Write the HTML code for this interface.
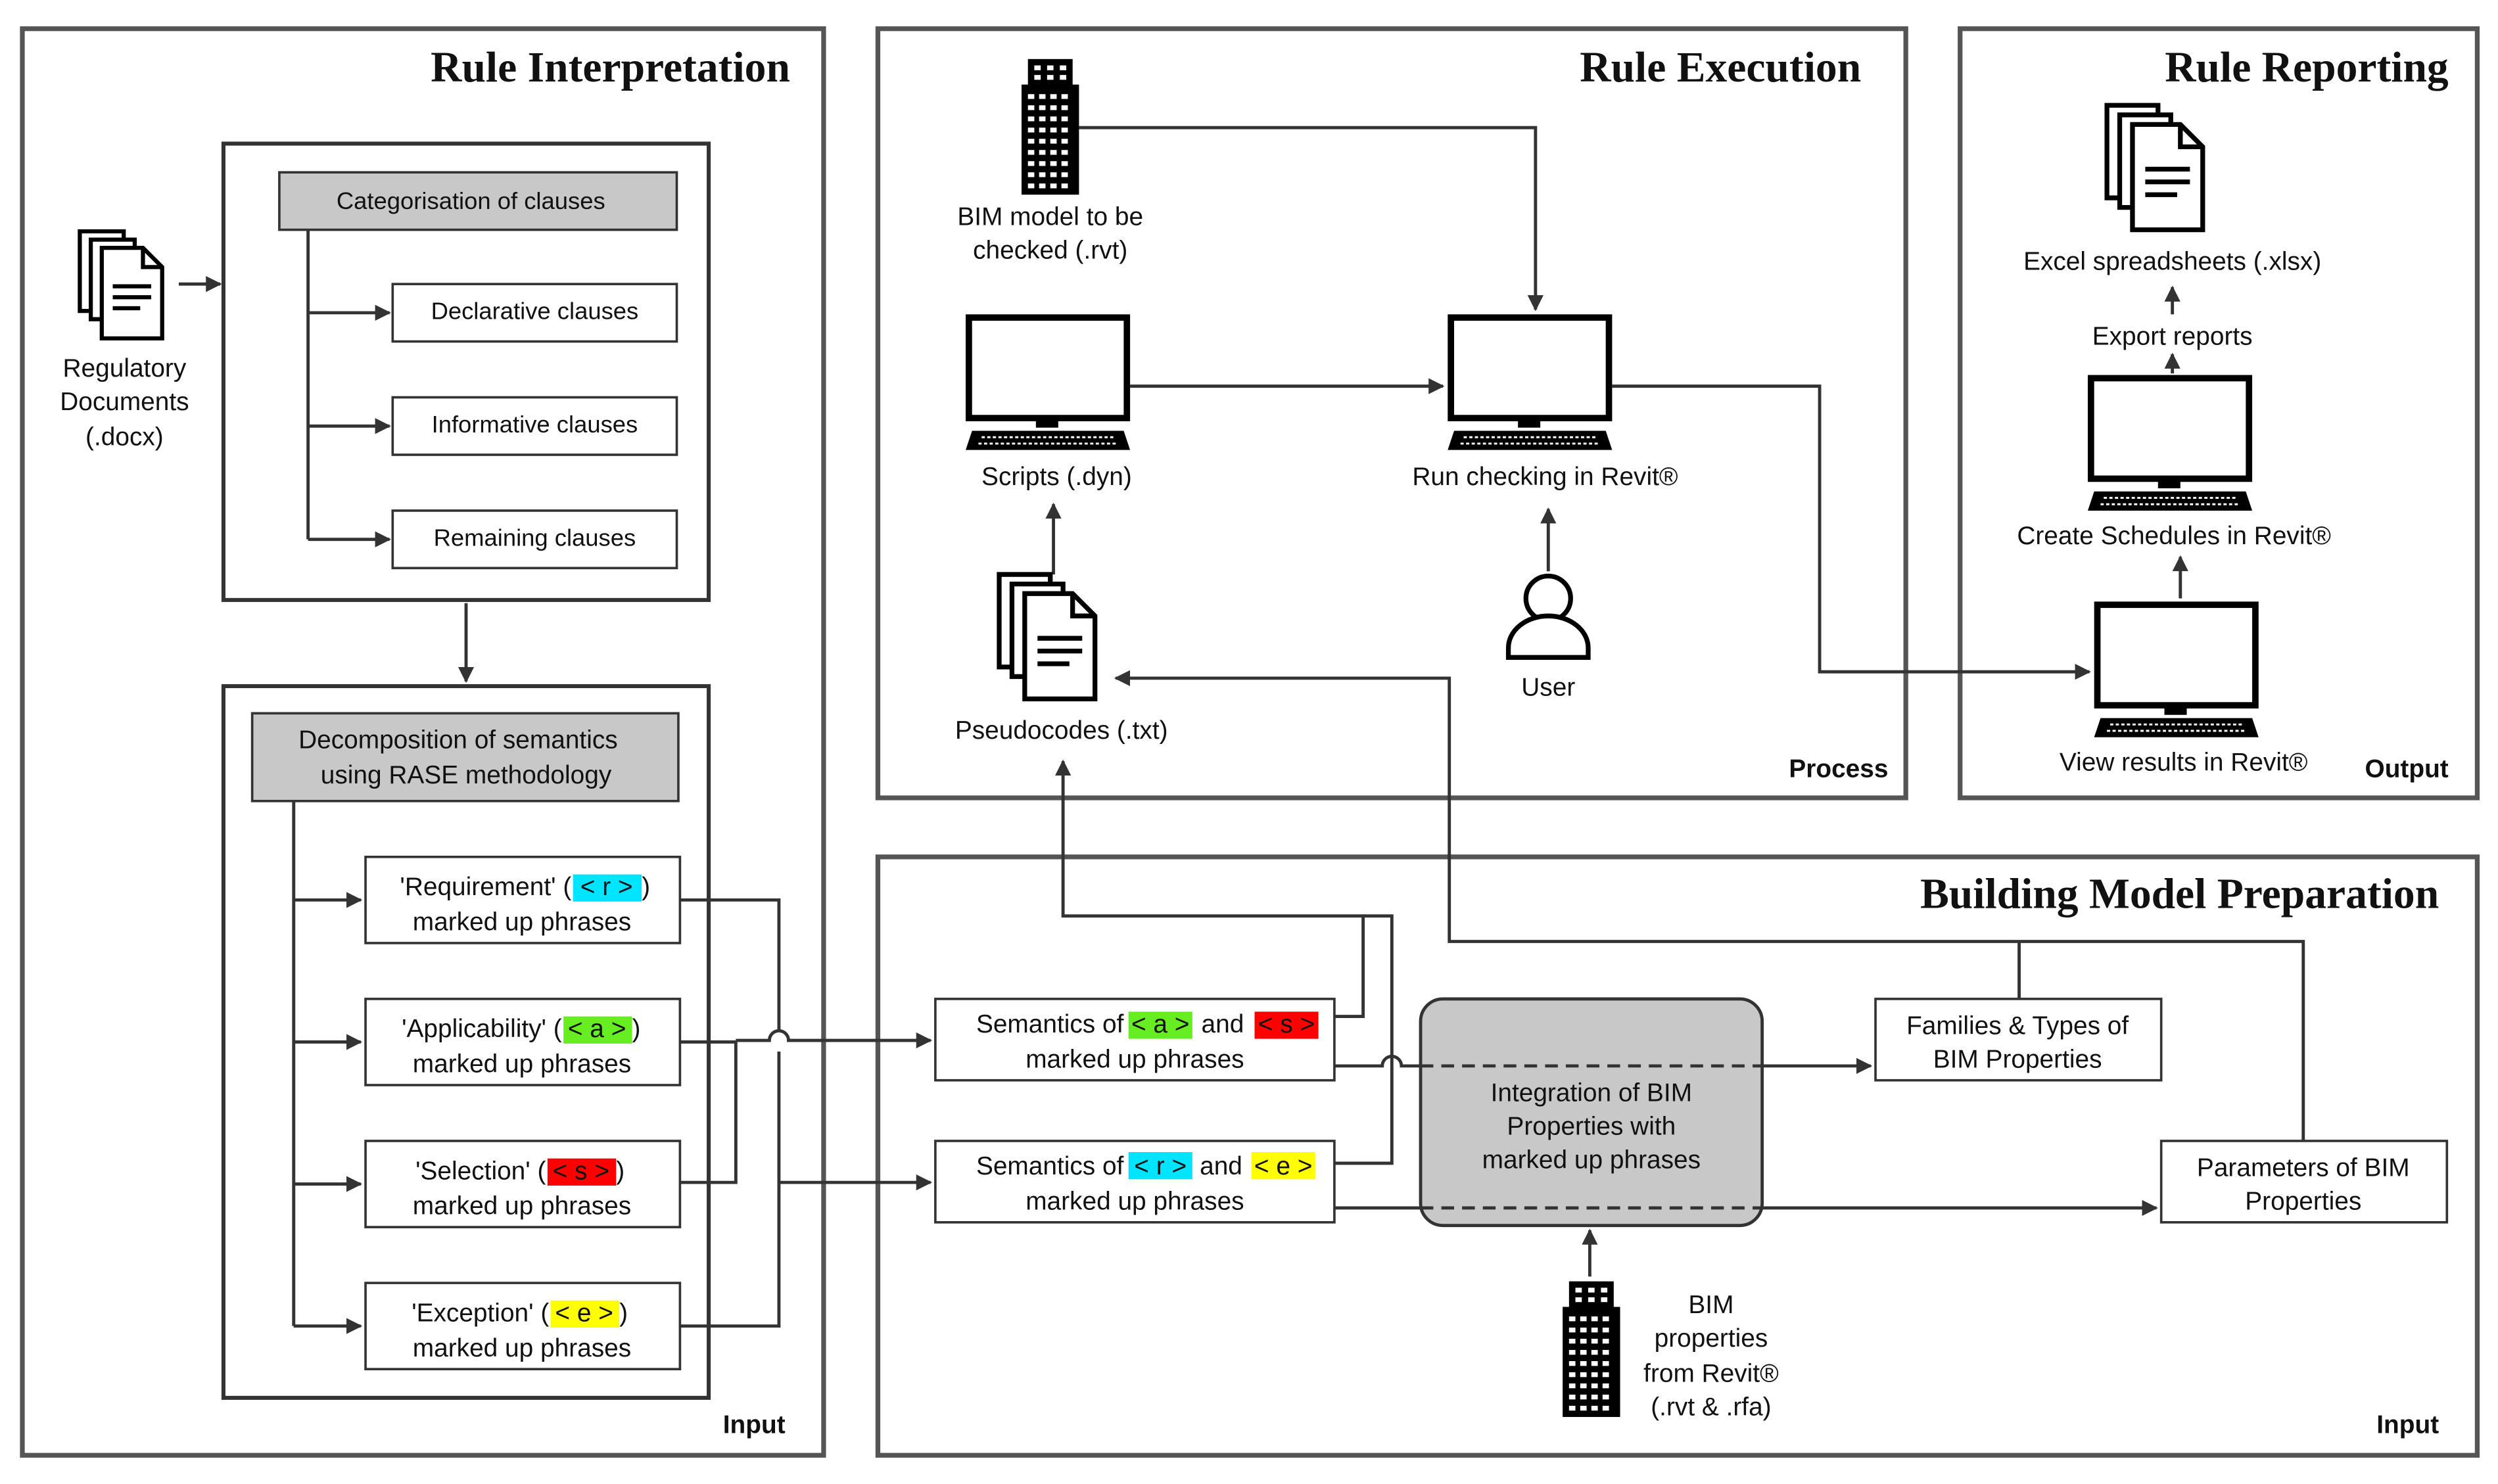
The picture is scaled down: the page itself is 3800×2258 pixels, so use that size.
<!DOCTYPE html>
<html><head><meta charset="utf-8">
<style>
html,body{margin:0;padding:0;background:#fff;}
svg{display:block;}
text{font-family:"Liberation Sans",sans-serif;font-size:16px;fill:#111;}
.t{font-family:"Liberation Serif",serif;font-weight:bold;font-size:27px;}
.b{font-weight:bold;font-size:16px;}
.s{font-size:15px;}
</style></head><body>
<svg width="3800" height="2258" viewBox="0 0 1565 930" preserveAspectRatio="none" xmlns="http://www.w3.org/2000/svg">
<defs>
<marker id="a" markerWidth="10" markerHeight="10" refX="9" refY="5" orient="auto" markerUnits="userSpaceOnUse"><path d="M0,0 L10,5 L0,10 z" fill="#333"/></marker>
<g id="doc">
 <path d="M0,0 h32 l0,0 v58 h-32z" fill="#fff" stroke="#000" stroke-width="3"/>
 <path d="M8,6 h32 v58 h-32z" fill="#fff" stroke="#000" stroke-width="3"/>
 <path d="M16,12 h30 l14,14 v52 h-44z" fill="#fff" stroke="#000" stroke-width="3"/>
 <path d="M46,12 v14 h14" fill="none" stroke="#000" stroke-width="3"/>
 <path d="M24,40 h28 M24,48 h28 M24,56 h20" stroke="#000" stroke-width="3"/>
</g>
<g id="mon">
 <rect x="2" y="2" width="99" height="63" fill="#fff" stroke="#000" stroke-width="4"/>
 <rect x="44" y="66" width="14" height="5" fill="#000"/>
 <path d="M4,73 h95 l4,12 h-103z" fill="#000"/>
 <path d="M10,77 h83 M8,81 h87" stroke="#fff" stroke-width="1.2" stroke-dasharray="2 1.5"/>
</g>
<g id="bld">
 <rect x="4" y="0" width="28" height="18" fill="#000"/>
 <rect x="0" y="16" width="36" height="69" fill="#000"/>
 <g fill="#fff">
 <rect x="8" y="4" width="4" height="3"/><rect x="16" y="4" width="4" height="3"/><rect x="24" y="4" width="4" height="3"/>
 <rect x="8" y="10" width="4" height="3"/><rect x="16" y="10" width="4" height="3"/><rect x="24" y="10" width="4" height="3"/>
 </g>
 <g fill="#fff" id="win">
 <rect x="4" y="22" width="4" height="3"/><rect x="11" y="22" width="4" height="3"/><rect x="18" y="22" width="4" height="3"/><rect x="25" y="22" width="4" height="3"/>
 </g>
 <use href="#win" y="7"/><use href="#win" y="14"/><use href="#win" y="21"/><use href="#win" y="28"/><use href="#win" y="35"/><use href="#win" y="42"/><use href="#win" y="49"/><use href="#win" y="56"/>
</g>
</defs>
<rect width="1565" height="930" fill="#fff"/>
<g fill="none" stroke="#555" stroke-width="3">
<rect x="14" y="18" width="502" height="894"/>
<rect x="550" y="18" width="644" height="482"/>
<rect x="1228" y="18" width="324" height="482"/>
<rect x="550" y="537" width="1002" height="375"/>
</g>
<text class="t" x="495" y="51" text-anchor="end">Rule Interpretation</text>
<text class="t" x="1166" y="51" text-anchor="end">Rule Execution</text>
<text class="t" x="1534" y="51" text-anchor="end">Rule Reporting</text>
<text class="t" x="1528" y="569" text-anchor="end">Building Model Preparation</text>
<text class="b" x="492" y="898" text-anchor="end">Input</text>
<text class="b" x="1183" y="487" text-anchor="end">Process</text>
<text class="b" x="1534" y="487" text-anchor="end">Output</text>
<text class="b" x="1528" y="898" text-anchor="end">Input</text>

<g stroke="#333" stroke-width="2.5" fill="none">
<rect x="140" y="90" width="304" height="286"/>
<rect x="140" y="430" width="304" height="446"/>
</g>
<rect x="175" y="108" width="249" height="36" fill="#c8c8c8" stroke="#333" stroke-width="1.5"/>
<text class="s" x="295" y="131" text-anchor="middle">Categorisation of clauses</text>
<g fill="#fff" stroke="#333" stroke-width="1.5">
<rect x="246" y="178" width="178" height="36"/>
<rect x="246" y="249" width="178" height="36"/>
<rect x="246" y="320" width="178" height="36"/>
</g>
<text class="s" x="335" y="200" text-anchor="middle">Declarative clauses</text>
<text class="s" x="335" y="271" text-anchor="middle">Informative clauses</text>
<text class="s" x="335" y="342" text-anchor="middle">Remaining clauses</text>
<g stroke="#333" stroke-width="2" fill="none">
<path d="M193,144 V338"/>
<path d="M193,196 H244" marker-end="url(#a)"/>
<path d="M193,267 H244" marker-end="url(#a)"/>
<path d="M193,338 H244" marker-end="url(#a)"/>
<path d="M112,178 H138" marker-end="url(#a)"/>
<path d="M292,378 V427" marker-end="url(#a)"/>
</g>
<use href="#doc" transform="translate(50,145) scale(0.86)"/>
<text x="78" y="236" text-anchor="middle">Regulatory</text>
<text x="78" y="257" text-anchor="middle">Documents</text>
<text x="78" y="279" text-anchor="middle">(.docx)</text>

<rect x="158" y="447" width="267" height="55" fill="#c8c8c8" stroke="#333" stroke-width="1.5"/>
<text x="287" y="469" text-anchor="middle">Decomposition of semantics</text>
<text x="292" y="491" text-anchor="middle">using RASE methodology</text>
<g fill="#fff" stroke="#333" stroke-width="1.5">
<rect x="229" y="537" width="197" height="54"/>
<rect x="229" y="626" width="197" height="54"/>
<rect x="229" y="715" width="197" height="54"/>
<rect x="229" y="804" width="197" height="54"/>
</g>
<rect x="359" y="548" width="43" height="17" fill="#00e5ff"/>
<rect x="353" y="637" width="43" height="17" fill="#66ee22"/>
<rect x="343" y="726" width="43" height="17" fill="#ff0000"/>
<rect x="345" y="815" width="43" height="17" fill="#ffff00"/>
<text x="358" y="561" text-anchor="end">'Requirement' (</text><text x="380" y="561" text-anchor="middle">&lt; r &gt;</text><text x="402" y="561">)</text>
<text x="327" y="583" text-anchor="middle">marked up phrases</text>
<text x="352" y="650" text-anchor="end">'Applicability' (</text><text x="374" y="650" text-anchor="middle">&lt; a &gt;</text><text x="396" y="650">)</text>
<text x="327" y="672" text-anchor="middle">marked up phrases</text>
<text x="342" y="739" text-anchor="end">'Selection' (</text><text x="364" y="739" text-anchor="middle">&lt; s &gt;</text><text x="386" y="739">)</text>
<text x="327" y="761" text-anchor="middle">marked up phrases</text>
<text x="344" y="828" text-anchor="end">'Exception' (</text><text x="366" y="828" text-anchor="middle">&lt; e &gt;</text><text x="388" y="828">)</text>
<text x="327" y="850" text-anchor="middle">marked up phrases</text>
<g stroke="#333" stroke-width="2" fill="none">
<path d="M184,502 V831"/>
<path d="M184,564 H226" marker-end="url(#a)"/>
<path d="M184,653 H226" marker-end="url(#a)"/>
<path d="M184,742 H226" marker-end="url(#a)"/>
<path d="M184,831 H226" marker-end="url(#a)"/>
<path d="M426,564 H488 V646 M488,659 V831 H426"/>
<path d="M426,653 H461 V741 H426"/>
<path d="M461,652 H482 a6,6 0 0 1 12,0 H583" marker-end="url(#a)"/>
<path d="M488,741 H583" marker-end="url(#a)"/>
</g>

<!-- Building model prep -->
<g fill="#fff" stroke="#333" stroke-width="1.5">
<rect x="586" y="626" width="250" height="51"/>
<rect x="586" y="715" width="250" height="51"/>
<rect x="1175" y="626" width="179" height="51"/>
<rect x="1354" y="715" width="179" height="51"/>
</g>
<rect x="890" y="626" width="214" height="142" rx="14" fill="#c8c8c8" stroke="#333" stroke-width="2"/>
<rect x="707" y="634" width="40" height="17" fill="#66ee22"/>
<rect x="786" y="634" width="40" height="17" fill="#ff0000"/>
<rect x="707" y="722" width="40" height="17" fill="#00e5ff"/>
<rect x="784" y="722" width="40" height="17" fill="#ffff00"/>
<text x="704" y="647" text-anchor="end">Semantics of</text><text x="727" y="647" text-anchor="middle">&lt; a &gt;</text><text x="766" y="647" text-anchor="middle">and</text><text x="806" y="647" text-anchor="middle">&lt; s &gt;</text>
<text x="711" y="669" text-anchor="middle">marked up phrases</text>
<text x="704" y="736" text-anchor="end">Semantics of</text><text x="727" y="736" text-anchor="middle">&lt; r &gt;</text><text x="765" y="736" text-anchor="middle">and</text><text x="804" y="736" text-anchor="middle">&lt; e &gt;</text>
<text x="711" y="758" text-anchor="middle">marked up phrases</text>
<text x="997" y="690" text-anchor="middle">Integration of BIM</text>
<text x="997" y="711" text-anchor="middle">Properties with</text>
<text x="997" y="732" text-anchor="middle">marked up phrases</text>
<text x="1264" y="648" text-anchor="middle">Families &amp; Types of</text>
<text x="1264" y="669" text-anchor="middle">BIM Properties</text>
<text x="1443" y="737" text-anchor="middle">Parameters of BIM</text>
<text x="1443" y="758" text-anchor="middle">Properties</text>
<g stroke="#333" stroke-width="2" fill="none">
<path d="M836,668 H866 a6,6 0 0 1 12,0 H890"/>
<path d="M890,668 H1104" stroke-dasharray="8 5"/>
<path d="M1104,668 H1172" marker-end="url(#a)"/>
<path d="M836,757 H890"/>
<path d="M890,757 H1104" stroke-dasharray="8 5"/>
<path d="M1104,757 H1351" marker-end="url(#a)"/>
<path d="M836,637 H854 V574 H666 V477" marker-end="url(#a)"/>
<path d="M836,729 H872 V574 H854"/>
<path d="M1265,626 V590 M1443,715 V590 H908 V425 H699" marker-end="url(#a)"/>
<path d="M996,800 V771" marker-end="url(#a)"/>
</g>
<use href="#bld" x="979" y="803"/>
<text x="1072" y="823" text-anchor="middle">BIM</text>
<text x="1072" y="844" text-anchor="middle">properties</text>
<text x="1072" y="866" text-anchor="middle">from Revit®</text>
<text x="1072" y="887" text-anchor="middle">(.rvt &amp; .rfa)</text>

<!-- Rule execution -->
<use href="#bld" x="640" y="37"/>
<text x="658" y="141" text-anchor="middle">BIM model to be</text>
<text x="658" y="162" text-anchor="middle">checked (.rvt)</text>
<use href="#mon" x="605" y="197"/>
<text x="662" y="304" text-anchor="middle">Scripts (.dyn)</text>
<use href="#mon" x="907" y="197"/>
<text x="968" y="304" text-anchor="middle">Run checking in Revit®</text>
<g stroke="#333" stroke-width="2" fill="none">
<path d="M676,80 H962 V194" marker-end="url(#a)"/>
<path d="M708,242 H904" marker-end="url(#a)"/>
<path d="M1010,242 H1140 V421 H1309" marker-end="url(#a)"/>
<path d="M970,358 V319" marker-end="url(#a)"/>
<path d="M660,360 V316" marker-end="url(#a)"/>
</g>
<circle cx="970" cy="375" r="14" fill="#fff" stroke="#000" stroke-width="3"/>
<path d="M945,412 v-6 a25,20 0 0 1 50,0 v6 z" fill="#fff" stroke="#000" stroke-width="3"/>
<text x="970" y="436" text-anchor="middle">User</text>
<use href="#doc" x="626" y="360"/>
<text x="665" y="463" text-anchor="middle">Pseudocodes (.txt)</text>

<!-- Rule reporting -->
<use href="#doc" x="1320" y="66"/>
<text x="1361" y="169" text-anchor="middle">Excel spreadsheets (.xlsx)</text>
<text x="1361" y="216" text-anchor="middle">Export reports</text>
<use href="#mon" x="1308" y="235"/>
<text x="1362" y="341" text-anchor="middle">Create Schedules in Revit®</text>
<use href="#mon" x="1312" y="377"/>
<text x="1368" y="483" text-anchor="middle">View results in Revit®</text>
<g stroke="#333" stroke-width="2" fill="none">
<path d="M1361,197 V180" marker-end="url(#a)"/>
<path d="M1361,234 V222" marker-end="url(#a)"/>
<path d="M1366,375 V349" marker-end="url(#a)"/>
</g>
</svg>
</body></html>
